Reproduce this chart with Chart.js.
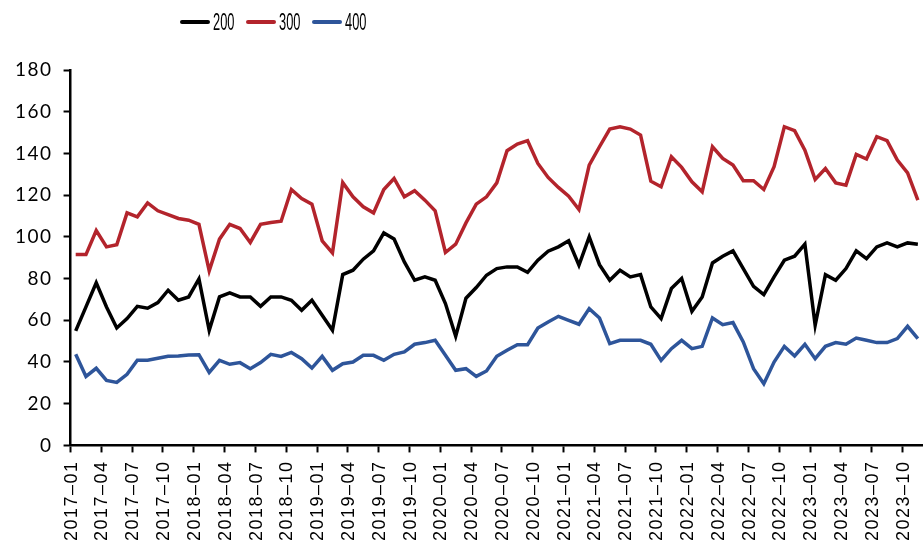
<!DOCTYPE html>
<html>
<head>
<meta charset="utf-8">
<title>200 / 300 / 400</title>
<script src="https://cdn.jsdelivr.net/npm/chart.js@4/dist/chart.umd.min.js"></script>
<style>
    html, body { margin: 0; padding: 0; background: #fff; }
    #wrap { position: relative; width: 923px; height: 545px; }
    #legend { position: absolute; top: 10px; left: 180px; display: flex; align-items: center; }
    .item { display: flex; align-items: center; margin-right: 13px; }
    .swatch { width: 30px; height: 4px; border-radius: 2px; margin-right: 3px; }
    .name { width: 20px; height: 24px; overflow: visible; white-space: nowrap; }
    .name span {
        display: inline-block;
        font-family: "Liberation Sans Narrow", "Liberation Sans", sans-serif;
        font-size: 23px; line-height: 24px; color: #000;
        transform: scaleX(0.56); transform-origin: left center;
    }
</style>
</head>
<body>
<div id="wrap">
    <canvas id="chart" width="923" height="545"></canvas>
    <div id="legend"></div>
</div>
<script>
// ---- data ----
const months = [];
for (let y = 2017; y <= 2023; y++) {
    for (let m = 1; m <= 12; m++) {
        if (y === 2023 && m > 11) break;
        months.push(y + '-' + String(m).padStart(2, '0'));
    }
}

const seriesNames = ['200', '300', '400'];
const seriesColors = ['#000000', '#B3242C', '#2E559A'];

const values200 = [
    54.9, 66.4, 78.0, 66.4, 56.3, 60.8, 66.7, 65.8, 68.5, 74.4, 69.6, 71.2,
    79.8, 55.2, 71.2, 73.1, 71.2, 71.2, 66.7, 71.2, 71.2, 69.6, 64.8, 69.6,
    62.4, 55.2, 81.9, 84.0, 89.3, 93.3, 101.9, 99.0, 88.0, 79.2, 80.8, 79.2,
    68.0, 52.3, 70.6, 75.7, 81.6, 84.8, 85.6, 85.6, 83.0, 88.8, 93.1, 95.2,
    98.1, 86.4, 100.0, 86.7, 79.2, 84.0, 80.8, 81.9, 66.4, 60.8, 75.2, 80.0,
    64.3, 71.2, 87.5, 90.7, 93.3, 84.8, 76.3, 72.3, 80.8, 88.8, 90.7, 96.5,
    57.6, 81.9, 79.2, 84.8, 93.3, 89.6, 95.2, 97.1, 95.2, 97.1, 96.5
];
const values300 = [
    91.5, 91.5, 103.0, 95.2, 96.2, 111.5, 109.6, 116.3, 112.5, 110.7, 108.8, 108.0,
    106.0, 83.7, 98.9, 106.0, 104.0, 97.3, 106.0, 106.9, 107.5, 122.7, 118.4, 115.7,
    98.1, 92.3, 126.0, 119.2, 114.4, 111.5, 122.7, 128.0, 119.2, 122.1, 117.6, 112.5,
    92.5, 96.5, 106.7, 115.7, 119.2, 125.9, 141.3, 144.5, 146.1, 135.2, 128.5, 123.7,
    119.5, 113.1, 134.4, 143.2, 151.7, 152.8, 151.7, 148.8, 126.7, 124.0, 138.4, 133.3,
    126.4, 121.6, 143.2, 137.6, 134.4, 126.9, 126.9, 122.7, 133.6, 152.8, 150.9, 141.6,
    127.5, 132.8, 125.9, 124.8, 139.5, 137.3, 148.0, 146.1, 136.8, 130.7, 117.6
];
const values400 = [
    43.7, 33.1, 37.0, 31.2, 30.2, 34.1, 40.8, 40.8, 41.8, 42.7, 42.9, 43.4,
    43.5, 35.0, 40.8, 38.9, 39.7, 36.8, 39.7, 43.7, 42.7, 44.6, 41.6, 37.1,
    42.7, 36.0, 39.2, 40.0, 43.2, 43.2, 40.8, 43.7, 44.8, 48.5, 49.3, 50.4,
    43.2, 36.0, 36.8, 33.1, 35.7, 42.7, 45.6, 48.3, 48.3, 56.3, 59.2, 61.9,
    60.0, 58.1, 65.6, 61.1, 48.8, 50.4, 50.4, 50.4, 48.5, 40.8, 46.4, 50.4,
    46.4, 47.5, 61.1, 57.9, 58.9, 49.6, 36.8, 29.6, 40.0, 47.5, 42.9, 48.5,
    41.6, 47.5, 49.3, 48.5, 51.5, 50.4, 49.3, 49.3, 51.2, 57.1, 51.2
];

const yTicks = [0, 20, 40, 60, 80, 100, 120, 140, 160, 180];

// ---- legend (html, above the plot) ----
const legendEl = document.getElementById('legend');
seriesNames.forEach((name, i) => {
    const item = document.createElement('div');
    item.className = 'item';
    item.innerHTML = '<div class="swatch" style="background:' + seriesColors[i] + '"></div>' +
        '<div class="name"><span>' + name + '</span></div>';
    legendEl.appendChild(item);
});

// wider spacing for axis text
const spacedText = {
    id: 'spacedText',
    beforeUpdate(chart) { chart.ctx.letterSpacing = '1.5px'; },
    beforeDraw(chart) { chart.ctx.letterSpacing = '1.5px'; }
};

const datasets = [values200, values300, values400].map((vals, i) => ({
    label: seriesNames[i],
    data: vals,
    borderColor: seriesColors[i],
    backgroundColor: seriesColors[i],
    borderWidth: 3.5,
    pointRadius: 0,
    tension: 0,
    fill: false
}));

new Chart(document.getElementById('chart'), {
    type: 'line',
    data: { labels: months, datasets: datasets },
    plugins: [spacedText],
    options: {
        responsive: false,
        animation: false,
        devicePixelRatio: 1,
        layout: { padding: { top: 70, left: 4, right: 0, bottom: -4 } },
        plugins: {
            legend: { display: false },
            tooltip: { enabled: false }
        },
        scales: {
            x: {
                offset: true,
                grid: {
                    offset: true,
                    drawOnChartArea: false,
                    tickLength: 7,
                    tickWidth: 2,
                    tickColor: ctx => ctx.index % 3 === 0 ? '#000' : 'rgba(0,0,0,0)'
                },
                border: { color: '#000', width: 2.5 },
                ticks: {
                    autoSkip: false,
                    minRotation: 90,
                    maxRotation: 90,
                    padding: 8,
                    labelOffset: -4,
                    color: '#000',
                    font: { family: '"Liberation Sans", Arial, sans-serif', size: 18 },
                    callback: (v, i) => i % 3 === 0 ? months[i].replace('-', '–') : ''
                },
                afterFit: s => { s.paddingRight = 0; }
            },
            y: {
                min: 0,
                max: 180,
                afterBuildTicks: s => { s.ticks = yTicks.map(v => ({ value: v })); },
                grid: {
                    drawOnChartArea: false,
                    tickLength: 7,
                    tickWidth: 2,
                    tickColor: '#000'
                },
                border: { color: '#000', width: 2.5 },
                ticks: {
                    padding: 11,
                    color: '#000',
                    font: { family: 'Lato, sans-serif', size: 19 }
                }
            }
        }
    }
});
</script>
</body>
</html>
